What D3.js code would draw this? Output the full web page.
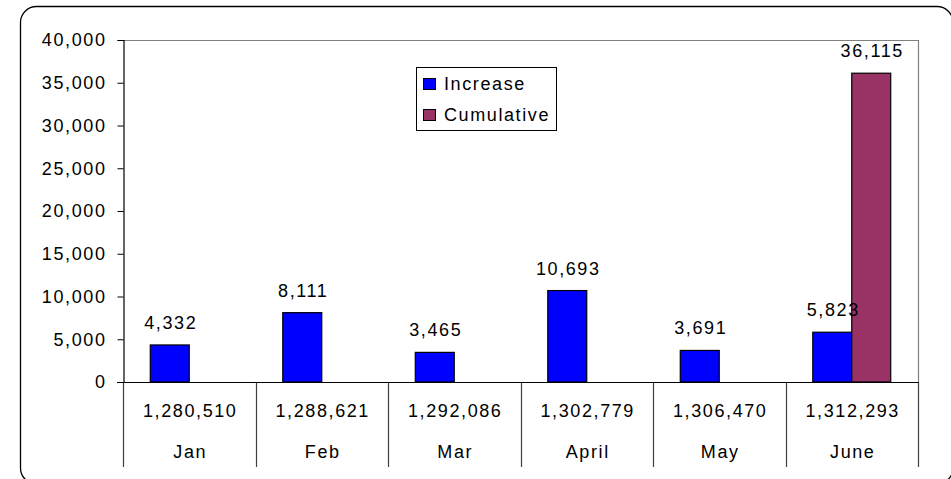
<!DOCTYPE html>
<html>
<head>
<meta charset="utf-8">
<script src="https://cdn.jsdelivr.net/npm/d3@7"></script>
<style>
  body { margin: 0; background: #fff; }
  svg text { font-family: "Liberation Sans", Arial, sans-serif; font-size: 18px; letter-spacing: 1.6px; fill: #000; }
</style>
</head>
<body>
<svg width="951" height="479"></svg>
<script>
// chart values
var months = ["Jan", "Feb", "Mar", "April", "May", "June"];
var totals = [1280510, 1288621, 1292086, 1302779, 1306470, 1312293];
var increase = [4332, 8111, 3465, 10693, 3691, 5823];
var cumulative = [null, null, null, null, null, 36115];
var series = ["Increase", "Cumulative"];
var colors = ["#0000ff", "#993366"];
var yTicks = [0, 5000, 10000, 15000, 20000, 25000, 30000, 35000, 40000];

var svg = d3.select("svg");
var fmt = d3.format(",");

var pLeft = 123, pRight = 918, pTop = 40, pBottom = 382, catBottom = 467;

// outer rounded frame
svg.append("rect")
    .attr("x", 20.5).attr("y", 6.5)
    .attr("width", 932.5).attr("height", 477.5)
    .attr("rx", 16).attr("ry", 16)
    .attr("fill", "none").attr("stroke", "#000").attr("stroke-width", 1.3);

var x = d3.scaleBand().domain(months).range([pLeft, pRight]).padding(0);
var xs = d3.scaleBand().domain(series).range([0, x.bandwidth()]).paddingInner(0).paddingOuter(0.7);
var y = d3.scaleLinear().domain([0, 40000]).range([pBottom, pTop]);

// plot frame (top and right grey)
svg.append("path")
    .attr("d", "M" + pLeft + "," + (pTop + 0.5) + "H" + (pRight + 0.5) + "V" + pBottom)
    .attr("fill", "none").attr("stroke", "#808080").attr("stroke-width", 1.2);

// y axis
var yAxis = svg.append("g")
    .attr("transform", "translate(" + (pLeft + 0.5) + ",0)")
    .call(d3.axisLeft(y).tickValues(yTicks).tickFormat(fmt).tickSize(6).tickPadding(11));
yAxis.attr("font-family", null).attr("font-size", null);
yAxis.select(".domain").attr("stroke", "#000").attr("stroke-width", 1.2);
yAxis.selectAll(".tick line").attr("stroke", "#000");
yAxis.selectAll(".tick text").attr("fill", "#000");

// category separators
svg.append("g").selectAll("line")
    .data(months.concat(["end"]))
    .join("line")
    .attr("x1", function(d, i) { return Math.round(i < months.length ? x(d) : pRight) + 0.5; })
    .attr("x2", function(d, i) { return Math.round(i < months.length ? x(d) : pRight) + 0.5; })
    .attr("y1", pBottom).attr("y2", catBottom)
    .attr("stroke", "#404040").attr("stroke-width", 1.2);

// bars
var rows = months.map(function(m, i) {
  return [{ m: m, s: "Increase", v: increase[i] }, { m: m, s: "Cumulative", v: cumulative[i] }];
});
var bars = [].concat.apply([], rows).filter(function(d) { return d.v != null; });

svg.append("g").selectAll("rect")
    .data(bars)
    .join("rect")
    .attr("x", function(d) { return x(d.m) + xs(d.s); })
    .attr("y", function(d) { return y(d.v); })
    .attr("width", xs.bandwidth())
    .attr("height", function(d) { return y(0) - y(d.v); })
    .attr("fill", function(d) { return colors[series.indexOf(d.s)]; })
    .attr("stroke", "#000").attr("stroke-width", 1.2);

// value labels
svg.append("g").selectAll("text")
    .data(bars)
    .join("text")
    .attr("x", function(d) { return x(d.m) + xs(d.s) + xs.bandwidth() / 2 + 1; })
    .attr("y", function(d) { return y(d.v) - 16; })
    .attr("text-anchor", "middle")
    .text(function(d) { return fmt(d.v); });

// zero line
svg.append("line")
    .attr("x1", pLeft - 6).attr("x2", pRight + 0.5)
    .attr("y1", pBottom + 0.5).attr("y2", pBottom + 0.5)
    .attr("stroke", "#000").attr("stroke-width", 1.2);

// category labels: totals and month names
svg.append("g").selectAll("text")
    .data(months)
    .join("text")
    .attr("x", function(d) { return x(d) + x.bandwidth() / 2 + 1; })
    .attr("y", 417)
    .attr("text-anchor", "middle")
    .text(function(d, i) { return fmt(totals[i]); });

svg.append("g").selectAll("text")
    .data(months)
    .join("text")
    .attr("x", function(d) { return x(d) + x.bandwidth() / 2 + 1; })
    .attr("y", 458)
    .attr("text-anchor", "middle")
    .text(function(d) { return d; });

// legend
var legend = svg.append("g").attr("transform", "translate(416,67)");
legend.append("rect")
    .attr("x", 0.5).attr("y", 0.5).attr("width", 140).attr("height", 63)
    .attr("fill", "#fff").attr("stroke", "#000");
var li = legend.selectAll("g").data(series).join("g")
    .attr("transform", function(d, i) { return "translate(0," + (i * 31) + ")"; });
li.append("rect")
    .attr("x", 7.5).attr("y", 11.5).attr("width", 12).attr("height", 11)
    .attr("fill", function(d, i) { return colors[i]; })
    .attr("stroke", "#000");
li.append("text")
    .attr("x", 28).attr("y", 23)
    .text(function(d) { return d; });
</script>
</body>
</html>
